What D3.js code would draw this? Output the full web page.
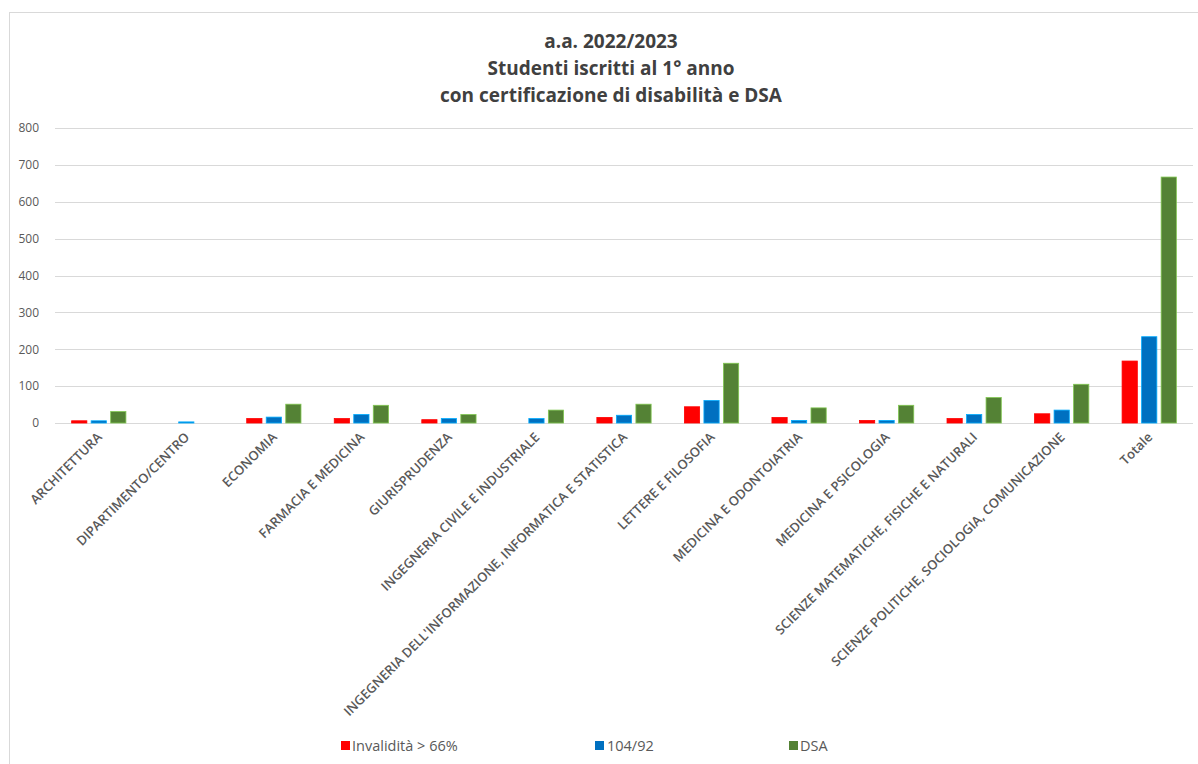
<!DOCTYPE html>
<meta charset="utf-8">
<script src="https://d3js.org/d3.v7.min.js"></script>
<title>Studenti iscritti al 1° anno con certificazione di disabilità e DSA</title>
<style>
    body { margin: 0; background: #fff; }
    #my_dataviz text { font-family: "Open Sans", sans-serif; }
</style>
<div id="my_dataviz"></div>
<script>
    // data
    const categories = [
        "ARCHITETTURA", "DIPARTIMENTO/CENTRO", "ECONOMIA", "FARMACIA E MEDICINA",
        "GIURISPRUDENZA", "INGEGNERIA CIVILE E INDUSTRIALE",
        "INGEGNERIA DELL'INFORMAZIONE, INFORMATICA E STATISTICA",
        "LETTERE E FILOSOFIA", "MEDICINA E ODONTOIATRIA", "MEDICINA E PSICOLOGIA",
        "SCIENZE MATEMATICHE, FISICHE E NATURALI",
        "SCIENZE POLITICHE, SOCIOLOGIA, COMUNICAZIONE", "Totale"
    ];
    const invalidita = [6, 0, 12, 12, 9, 0, 15, 44, 15, 7, 12, 25, 168];
    const legge104 = [6, 3, 16, 23, 12, 12, 21, 61, 7, 7, 23, 35, 234];
    const dsa = [31, 0, 51, 48, 23, 35, 51, 162, 41, 48, 69, 105, 667];
    const seriesNames = ["Invalidità > 66%", "104/92", "DSA"];
    const seriesColors = ["#FF0000", "#0070C0", "#548235"];
    const yTicks = [0, 100, 200, 300, 400, 500, 600, 700, 800];
    const titleLines = ["a.a. 2022/2023", "Studenti iscritti al 1° anno", "con certificazione di disabilità e DSA"];

    const W = 1198, H = 764;
    const plot = {left: 55, right: 1193, top: 128, bottom: 423};

    const svg = d3.select("#my_dataviz")
        .append("svg")
        .attr("width", W)
        .attr("height", H);

    // chart frame
    svg.append("rect")
        .attr("x", 9.5).attr("y", 12.5)
        .attr("width", W).attr("height", H)
        .attr("fill", "none")
        .attr("stroke", "#d9d9d9");

    const data = categories.map((c, i) => ({cat: c, values: [invalidita[i], legge104[i], dsa[i]]}));

    const x0 = d3.scaleBand()
        .domain(categories)
        .range([plot.left, plot.right])
        .paddingInner(0.38)
        .paddingOuter(0.19);

    const x1 = d3.scaleBand()
        .domain(d3.range(seriesNames.length))
        .range([0, x0.bandwidth()])
        .paddingInner(0.22);

    const y = d3.scaleLinear()
        .domain([0, 800])
        .range([plot.bottom, plot.top]);

    // gridlines
    svg.append("g")
        .selectAll("line")
        .data(yTicks)
        .join("line")
        .attr("x1", plot.left).attr("x2", plot.right)
        .attr("y1", d => Math.round(y(d)) + 0.5)
        .attr("y2", d => Math.round(y(d)) + 0.5)
        .attr("stroke", "#d9d9d9")
        .attr("stroke-width", 1);

    // y axis labels
    const yAxis = svg.append("g")
        .attr("transform", `translate(${plot.left},0)`)
        .call(d3.axisLeft(y).tickValues(yTicks).tickSize(0).tickPadding(16));
    yAxis.select(".domain").remove();
    yAxis.selectAll("text")
        .attr("fill", "#595959")
        .style("font-size", "12px");

    // bars
    svg.append("g")
        .selectAll("g")
        .data(data)
        .join("g")
        .attr("transform", d => `translate(${x0(d.cat)},0)`)
        .selectAll("rect")
        .data(d => d.values.map((v, i) => ({i: i, v: v})))
        .join("rect")
        .attr("x", d => x1(d.i))
        .attr("y", d => y(d.v))
        .attr("width", x1.bandwidth())
        .attr("height", d => y(0) - y(d.v))
        .attr("fill", d => seriesColors[d.i])
        .attr("stroke", d => d3.color(seriesColors[d.i]).brighter(1.2))
        .attr("stroke-width", d => d.v > 0 ? 0.8 : 0);

    // category labels, rotated
    svg.append("g")
        .selectAll("text")
        .data(categories)
        .join("text")
        .attr("transform", d => `translate(${x0(d) + x0.bandwidth() / 2 + 4},${plot.bottom + 15}) rotate(-45)`)
        .attr("text-anchor", "end")
        .attr("fill", "#595959")
        .style("font-size", "13px")
        .style("font-weight", "600")
        .text(d => d);

    // title
    svg.append("g")
        .selectAll("text")
        .data(titleLines)
        .join("text")
        .attr("x", 611)
        .attr("y", (d, i) => 48 + i * 27)
        .attr("text-anchor", "middle")
        .attr("fill", "#404040")
        .style("font-size", "19px")
        .style("font-weight", "bold")
        .text(d => d);

    // legend
    const legendX = [341, 595, 789];
    const legend = svg.append("g")
        .selectAll("g")
        .data(seriesNames)
        .join("g")
        .attr("transform", (d, i) => `translate(${legendX[i]},746)`);
    legend.append("rect")
        .attr("x", 0).attr("y", -5)
        .attr("width", 9).attr("height", 9)
        .attr("fill", (d, i) => seriesColors[i]);
    legend.append("text")
        .attr("x", (d, i) => i === 1 ? 12 : 11)
        .attr("y", 0)
        .attr("dy", "0.35em")
        .attr("fill", "#595959")
        .style("font-size", "14.5px")
        .style("font-weight", "500")
        .text(d => d);
</script>
